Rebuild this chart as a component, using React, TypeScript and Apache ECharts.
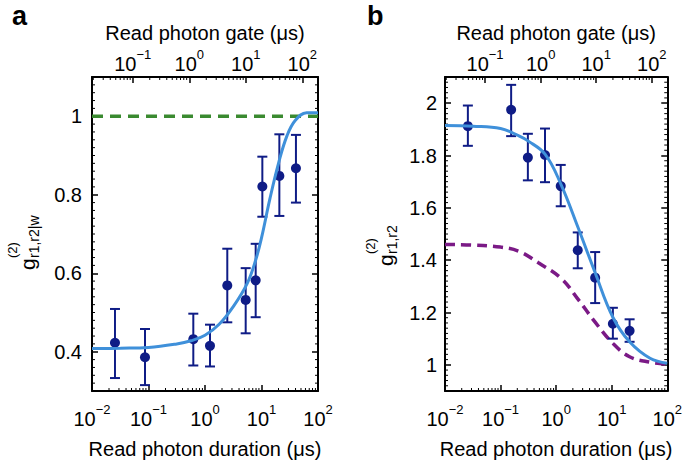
import React, { useEffect, useRef } from 'react';
import * as echarts from 'echarts';

// ---------- shared axis ticks ----------
const durationTickValues = [0.01, 0.1, 1, 10, 100];
const gateTickValues = [0.1, 1, 10, 100];
const minorMultipliers = [2, 3, 4, 5, 6, 7, 8, 9];
const durationDecades = [0.01, 0.1, 1, 10];
const gateDecades = [0.01, 0.1, 1, 10, 100];
const gateMin = 0.019;
const gateMax = 190;

// ---------- panel a ----------
const aDuration = [0.0255, 0.0867, 0.621, 1.225, 2.48, 5.25, 7.89, 10.35, 20.7, 40.7];
const aG2 = [0.423, 0.386, 0.432, 0.415, 0.569, 0.532, 0.582, 0.821, 0.848, 0.8675];
const aErrLow = [0.333, 0.315, 0.365, 0.3625, 0.475, 0.447, 0.488, 0.744, 0.746, 0.78];
const aErrHigh = [0.509, 0.458, 0.497, 0.469, 0.6625, 0.613, 0.675, 0.897, 0.954, 0.9525];
const aFitX = [0.01, 0.0316, 0.1, 0.316, 0.562, 1, 1.78, 3.16, 5.62, 7.94, 10, 14.1, 20, 28.2, 39.8, 63.1, 100];
const aFitY = [0.408, 0.409, 0.411, 0.42, 0.428, 0.442, 0.47, 0.515, 0.575, 0.635, 0.69, 0.79, 0.88, 0.95, 0.99, 1.009, 1.009];
const aLimitX = [0.01, 100];
const aLimitY = [1, 1];
const aYMin = 0.3;
const aYMax = 1.1;

// ---------- panel b ----------
const bDuration = [0.0258, 0.155, 0.31, 0.631, 1.21, 2.45, 5.04, 10.5, 21.0];
const bG2 = [1.912, 1.975, 1.792, 1.802, 1.683, 1.438, 1.333, 1.157, 1.13];
const bErrLow = [1.837, 1.874, 1.705, 1.698, 1.606, 1.369, 1.236, 1.1, 1.088];
const bErrHigh = [1.991, 2.07, 1.883, 1.903, 1.764, 1.506, 1.431, 1.218, 1.174];
const bFitX = [0.01, 0.0316, 0.1, 0.214, 0.316, 0.631, 1.21, 2.45, 5.04, 10.5, 21, 49, 100];
const bFitY = [1.915, 1.912, 1.903, 1.875, 1.855, 1.805, 1.692, 1.528, 1.352, 1.182, 1.088, 1.025, 1.006];
const bDashX = [0.01, 0.0316, 0.1, 0.214, 0.48, 1.24, 2.45, 5.04, 10.5, 21, 49, 100];
const bDashY = [1.46, 1.458, 1.45, 1.434, 1.39, 1.33, 1.252, 1.163, 1.082, 1.031, 1.01, 1.003];
const bYMin = 0.9;
const bYMax = 2.1;

const FONT = '"Liberation Sans", Arial, Helvetica, sans-serif';
const NAVY = '#0f1c86';
const BLUE = '#3f90da';
const GREEN = '#3a8a30';
const PURPLE = '#7b1a86';

const durationMinor = durationDecades.flatMap((d) => minorMultipliers.map((k) => k * d));
const gateMinor = gateDecades
  .flatMap((d) => minorMultipliers.map((k) => k * d))
  .filter((v) => v > gateMin && v < gateMax);

function yMinorValues(min: number, max: number) {
  const out: number[] = [];
  const n0 = Math.round(min / 0.02);
  const n1 = Math.round(max / 0.02);
  for (let n = n0 + 1; n < n1; n++) {
    if (n % 10 !== 0) out.push(n * 0.02);
  }
  return out;
}

function powLabel(v: number) {
  const e = Math.log10(v);
  const r = Math.round(e);
  if (Math.abs(e - r) > 1e-6) return '';
  const exp = r < 0 ? '\u2212' + String(-r) : String(r);
  return `{b|10}{s|${exp}}`;
}
const richPow = {
  b: { fontSize: 20, lineHeight: 26, verticalAlign: 'bottom', fontFamily: FONT, color: '#000' },
  s: { fontSize: 13, lineHeight: 14, verticalAlign: 'top', fontFamily: FONT, color: '#000' },
};

function yFmt(v: number) {
  const k = v / 0.2;
  if (Math.abs(k - Math.round(k)) > 1e-6) return '';
  return String(Math.round(v * 10) / 10);
}

const axisLineStyle = { show: true, onZero: false, lineStyle: { color: '#000', width: 2 } };
const tickStyle = { show: true, inside: true, length: 6, lineStyle: { color: '#000', width: 1.5 } };

function xBottom(gridIndex: number) {
  return {
    type: 'log', logBase: 10, gridIndex, position: 'bottom', min: 0.01, max: 100,
    name: 'Read photon duration (\u03bcs)', nameLocation: 'middle', nameGap: 48,
    nameTextStyle: { fontSize: 20, fontFamily: FONT, color: '#000' },
    axisLine: axisLineStyle, axisTick: tickStyle,
    axisLabel: { formatter: powLabel, rich: richPow, margin: 12, interval: 0, hideOverlap: false, color: '#000' },
    splitLine: { show: false }, minorTick: { show: false },
  };
}
function xTop(gridIndex: number) {
  return {
    type: 'log', logBase: 10, gridIndex, position: 'top', min: gateMin, max: gateMax,
    name: 'Read photon gate (\u03bcs)', nameLocation: 'middle', nameGap: 34,
    nameTextStyle: { fontSize: 20, fontFamily: FONT, color: '#000' },
    axisLine: axisLineStyle, axisTick: tickStyle,
    axisLabel: { formatter: powLabel, rich: richPow, margin: 3, interval: 0, hideOverlap: false, color: '#000' },
    splitLine: { show: false },
  };
}
function yLeft(gridIndex: number, min: number, max: number, margin: number) {
  return {
    type: 'value', gridIndex, position: 'left', min, max,
    axisLine: axisLineStyle, axisTick: tickStyle,
    axisLabel: { formatter: yFmt, margin, fontSize: 20, fontFamily: FONT, color: '#000', hideOverlap: false },
    splitLine: { show: false },
  };
}
function yRight(gridIndex: number, min: number, max: number) {
  return {
    type: 'value', gridIndex, position: 'right', min, max,
    axisLine: axisLineStyle, axisTick: tickStyle,
    axisLabel: { show: false }, splitLine: { show: false },
  };
}

function errorBarSeries(xi: number, yi: number, xs: number[], lo: number[], hi: number[]) {
  return {
    type: 'custom', xAxisIndex: xi, yAxisIndex: yi, silent: true, z: 3,
    data: xs.map((x, i) => [x, lo[i], hi[i]]),
    encode: { x: 0, y: [1, 2] },
    renderItem: (params: any, api: any) => {
      const a = api.coord([api.value(0), api.value(1)]);
      const b = api.coord([api.value(0), api.value(2)]);
      const w = 5;
      const st = { stroke: NAVY, lineWidth: 2 };
      return {
        type: 'group',
        children: [
          { type: 'line', shape: { x1: a[0], y1: a[1], x2: b[0], y2: b[1] }, style: st },
          { type: 'line', shape: { x1: a[0] - w, y1: a[1], x2: a[0] + w, y2: a[1] }, style: st },
          { type: 'line', shape: { x1: b[0] - w, y1: b[1], x2: b[0] + w, y2: b[1] }, style: st },
        ],
      };
    },
  };
}

function xMinorSeries(xi: number, yi: number, values: number[], yRef: number, atTop: boolean) {
  return {
    type: 'custom', xAxisIndex: xi, yAxisIndex: yi, silent: true, z: 1,
    data: values.map((v) => [v, yRef]),
    encode: { x: 0, y: 1 },
    renderItem: (params: any, api: any) => {
      const cs = params.coordSys;
      const x = api.coord([api.value(0), api.value(1)])[0];
      const y0 = atTop ? cs.y : cs.y + cs.height;
      const y1 = atTop ? cs.y + 3 : cs.y + cs.height - 3;
      return { type: 'line', shape: { x1: x, y1: y0, x2: x, y2: y1 }, style: { stroke: '#000', lineWidth: 1 } };
    },
  };
}

function yMinorSeries(xi: number, yi: number, values: number[], xRef: number) {
  return {
    type: 'custom', xAxisIndex: xi, yAxisIndex: yi, silent: true, z: 1,
    data: values.map((v) => [xRef, v]),
    encode: { x: 0, y: 1 },
    renderItem: (params: any, api: any) => {
      const cs = params.coordSys;
      const y = api.coord([api.value(0), api.value(1)])[1];
      const st = { stroke: '#000', lineWidth: 1 };
      return {
        type: 'group',
        children: [
          { type: 'line', shape: { x1: cs.x, y1: y, x2: cs.x + 3, y2: y }, style: st },
          { type: 'line', shape: { x1: cs.x + cs.width, y1: y, x2: cs.x + cs.width - 3, y2: y }, style: st },
        ],
      };
    },
  };
}

function yTitle(x: number, y: number, sub: string) {
  return {
    type: 'group', x, y, rotation: Math.PI / 2,
    children: [
      { type: 'text', x: 0, y: 0, style: { text: 'g', fontSize: 21, fontFamily: FONT, fill: '#000', align: 'left', verticalAlign: 'middle' } },
      { type: 'text', x: 12, y: -15, style: { text: '(2)', fontSize: 13, fontFamily: FONT, fill: '#000', align: 'left', verticalAlign: 'middle' } },
      { type: 'text', x: 12, y: 7, style: { text: sub, fontSize: 14, fontFamily: FONT, fill: '#000', align: 'left', verticalAlign: 'middle' } },
    ],
  };
}

const option: any = {
  animation: false,
  backgroundColor: '#fff',
  grid: [
    { left: 92, top: 77, width: 226, height: 320, containLabel: false },
    { left: 445, top: 77, width: 226, height: 320, containLabel: false },
  ],
  xAxis: [xBottom(0), xTop(0), xBottom(1), xTop(1)],
  yAxis: [yLeft(0, aYMin, aYMax, 10), yRight(0, aYMin, aYMax), yLeft(1, bYMin, bYMax, 8), yRight(1, bYMin, bYMax)],
  graphic: [
    { type: 'text', left: 12, top: 2, style: { text: 'a', fontSize: 27, fontWeight: 'bold', fontFamily: FONT, fill: '#000' } },
    { type: 'text', left: 367, top: 2, style: { text: 'b', fontSize: 27, fontWeight: 'bold', fontFamily: FONT, fill: '#000' } },
    yTitle(27, 270, 'r1,r2|w'),
    yTitle(385, 266, 'r1,r2'),
  ],
  series: [
    // panel a
    xMinorSeries(0, 0, durationMinor, aYMin, false),
    xMinorSeries(1, 0, gateMinor, aYMin, true),
    yMinorSeries(0, 0, yMinorValues(aYMin, aYMax), 1),
    {
      type: 'line', xAxisIndex: 0, yAxisIndex: 0, showSymbol: false, silent: true, z: 2,
      data: aLimitX.map((x, i) => [x, aLimitY[i]]),
      lineStyle: { color: GREEN, width: 3.5, type: [11, 7] },
    },
    errorBarSeries(0, 0, aDuration, aErrLow, aErrHigh),
    {
      type: 'scatter', xAxisIndex: 0, yAxisIndex: 0, symbol: 'circle', symbolSize: 10, z: 4, silent: true,
      data: aDuration.map((x, i) => [x, aG2[i]]),
      itemStyle: { color: NAVY, opacity: 1 },
    },
    {
      type: 'line', xAxisIndex: 0, yAxisIndex: 0, showSymbol: false, smooth: 0.4, silent: true, z: 5,
      data: aFitX.map((x, i) => [x, aFitY[i]]),
      lineStyle: { color: BLUE, width: 3 },
    },
    // panel b
    xMinorSeries(2, 2, durationMinor, bYMin, false),
    xMinorSeries(3, 2, gateMinor, bYMin, true),
    yMinorSeries(2, 2, yMinorValues(bYMin, bYMax), 1),
    {
      type: 'line', xAxisIndex: 2, yAxisIndex: 2, showSymbol: false, smooth: 0.4, silent: true, z: 2,
      data: bDashX.map((x, i) => [x, bDashY[i]]),
      lineStyle: { color: PURPLE, width: 3.5, type: [10, 6] },
    },
    errorBarSeries(2, 2, bDuration, bErrLow, bErrHigh),
    {
      type: 'scatter', xAxisIndex: 2, yAxisIndex: 2, symbol: 'circle', symbolSize: 10, z: 4, silent: true,
      data: bDuration.map((x, i) => [x, bG2[i]]),
      itemStyle: { color: NAVY, opacity: 1 },
    },
    {
      type: 'line', xAxisIndex: 2, yAxisIndex: 2, showSymbol: false, smooth: 0.4, silent: true, z: 5,
      data: bFitX.map((x, i) => [x, bFitY[i]]),
      lineStyle: { color: BLUE, width: 3 },
    },
  ],
};

export default function App() {
  const ref = useRef<HTMLDivElement>(null);
  useEffect(() => {
    document.body.style.margin = '0';
    const chart = echarts.init(ref.current as HTMLDivElement, null, { renderer: 'svg' });
    chart.setOption(option);
    return () => chart.dispose();
  }, []);
  return <div ref={ref} style={{ width: 685, height: 464, background: '#fff' }} />;
}
